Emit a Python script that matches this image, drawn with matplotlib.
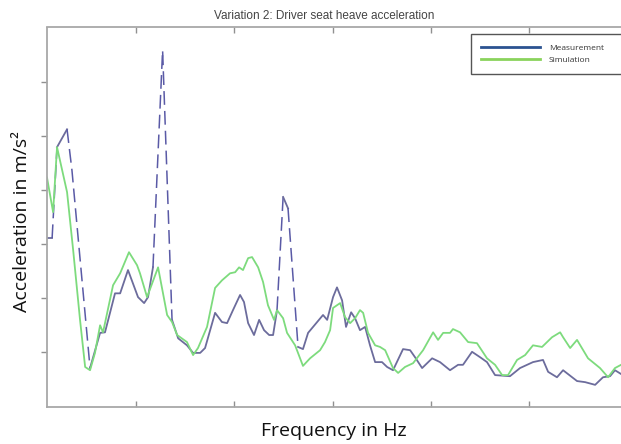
import numpy as np
import matplotlib
matplotlib.use("Agg")
import matplotlib.pyplot as plt
from matplotlib.lines import Line2D

# frequency axis (Hz) and heave acceleration (m/s^2)
meas_f = [0.47, 0.73, 0.98, 1.49, 1.74, 2.66, 3.17, 3.42, 3.93, 4.19, 4.59,
          5.10, 5.41, 5.61, 5.86, 6.35, 6.83, 7.14, 7.59, 7.90, 8.26, 8.51,
          9.02, 9.37, 9.63, 9.93, 10.29, 10.49, 10.70, 11.00, 11.26, 11.51,
          11.77, 11.97, 12.17, 12.48, 12.73, 13.24, 13.49, 13.75, 14.21,
          14.51, 14.72, 15.02, 15.22, 15.48, 15.68, 15.94, 16.14, 16.39,
          16.65, 16.90, 17.16, 17.51, 17.77, 18.07, 18.58, 18.94, 19.19,
          19.55, 20.06, 20.46, 20.97, 21.38, 21.63, 22.09, 22.50, 22.85,
          23.26, 24.02, 24.53, 25.19, 25.70, 25.96, 26.41, 26.72, 27.43,
          27.84, 28.35, 28.75, 29.11, 29.36, 29.67]
meas_a = [3.11, 3.11, 4.79, 5.12, 4.36, 0.71, 1.36, 1.37, 2.09, 2.09, 2.52,
          2.02, 1.91, 2.02, 2.57, 6.58, 1.60, 1.26, 1.13, 0.99, 0.99, 1.08,
          1.73, 1.56, 1.54, 1.78, 2.06, 1.93, 1.54, 1.32, 1.60, 1.41,
          1.32, 1.32, 1.78, 3.87, 3.66, 1.10, 1.06, 1.36, 1.56,
          1.69, 1.60, 2.02, 2.20, 1.96, 1.47, 1.74, 1.63, 1.41,
          1.47, 1.13, 0.82, 0.82, 0.73, 0.67, 1.06, 1.04, 0.91,
          0.71, 0.89, 0.82, 0.67, 0.77, 0.77, 1.01, 0.91, 0.82,
          0.58, 0.56, 0.71, 0.82, 0.86, 0.64, 0.54, 0.67, 0.47,
          0.45, 0.40, 0.54, 0.56, 0.67, 0.60]

sim_f = [0.47, 0.78, 0.98, 1.49, 1.80, 2.15, 2.41, 2.66, 2.91, 3.17, 3.32,
         3.83, 4.19, 4.64, 5.05, 5.20, 5.56, 6.12, 6.58, 6.83, 7.09, 7.59,
         7.90, 8.15, 8.61, 9.02, 9.37, 9.78, 10.04, 10.24, 10.44, 10.70,
         10.90, 11.21, 11.46, 11.71, 12.02, 12.17, 12.48, 12.68, 13.09,
         13.49, 13.85, 14.36, 14.61, 14.87, 15.02, 15.38, 15.63, 15.89,
         16.14, 16.39, 16.55, 16.80, 17.16, 17.41, 17.67, 18.07, 18.33,
         18.68, 19.09, 19.60, 20.11, 20.36, 20.62, 20.97, 21.12, 21.48,
         21.89, 22.34, 22.85, 23.26, 23.62, 23.92, 24.38, 24.79, 25.19,
         25.65, 26.16, 26.57, 26.72, 27.08, 27.43, 27.99, 28.60, 29.01,
         29.36, 29.67]
sim_a = [4.23, 3.59, 4.79, 3.96, 2.89, 1.60, 0.73, 0.67, 0.99, 1.50, 1.37,
         2.24, 2.46, 2.85, 2.61, 2.46, 2.02, 2.57, 1.69, 1.56, 1.32, 1.19,
         0.95, 1.08, 1.47, 2.19, 2.33, 2.46, 2.48, 2.57, 2.52, 2.74,
         2.76, 2.57, 2.30, 1.87, 1.60, 1.78, 1.63, 1.36, 1.13,
         0.75, 0.89, 1.04, 1.19, 1.41, 1.82, 1.91, 1.65, 1.54,
         1.63, 1.78, 1.73, 1.36, 1.13, 1.10, 1.04, 0.71, 0.62,
         0.73, 0.80, 1.04, 1.37, 1.23, 1.36, 1.36, 1.43, 1.37,
         1.19, 1.17, 0.89, 0.77, 0.58, 0.58, 0.86, 0.95, 1.13,
         1.10, 1.28, 1.37, 1.28, 1.08, 1.23, 0.89, 0.71, 0.54,
         0.71, 0.77]

meas_col = '#6c6c9c'
sim_col = '#7ddb7d'
spine_col = '#a8a8a8'


def split_runs(x, y, thr):
    # group consecutive segments by whether they are steep
    slope = np.abs(np.diff(y) / np.diff(x))
    steep = slope > thr
    runs = []
    start = 0
    for i in range(1, len(steep)):
        if steep[i] != steep[i - 1]:
            runs.append((start, i, steep[i - 1]))
            start = i
    runs.append((start, len(steep), steep[-1]))
    return runs


fig = plt.figure(figsize=(6.21, 4.44), dpi=100)
ax = fig.add_axes([47 / 621, 1 - 406.5 / 444, (660 - 47) / 621, 379 / 444])

mx = np.array(meas_f)
my = np.array(meas_a)
for s, e, steep in split_runs(mx, my, 2.8):
    if steep:
        ax.plot(mx[s:e + 1], my[s:e + 1], color='#5a5aa6', lw=1.1,
                ls=(0, (9, 4)))
    else:
        ax.plot(mx[s:e + 1], my[s:e + 1], color=meas_col, lw=1.3)
ax.plot(sim_f, sim_a, color=sim_col, lw=1.3)

ax.set_xlim(0.47, 31.65)
ax.set_ylim(0, 7)
ax.set_xticks([5, 10, 15, 20, 25, 30])
ax.set_yticks([1, 2, 3, 4, 5, 6])
ax.tick_params(axis='x', direction='in', top=True, length=4, width=1,
               color='#909090', labelbottom=False)
ax.tick_params(axis='y', direction='out', length=4, width=1,
               color='#909090', labelleft=False)
for sp in ax.spines.values():
    sp.set_color(spine_col)
    sp.set_linewidth(1.3)

handles = [Line2D([], [], color='#2b5391', lw=2),
           Line2D([], [], color='#8ad35c', lw=2)]
leg = fig.legend(handles, ['Measurement', 'Simulation'],
                 loc='upper left',
                 bbox_to_anchor=(467 / 621, 1 - 30 / 444, 170 / 621, 0),
                 mode='expand', fontsize=6, handlelength=7.0,
                 handletextpad=1.1, labelspacing=0.45, borderpad=1.2,
                 fancybox=False, framealpha=1, prop={'family': 'Open Sans',
                                                     'size': 6})
leg.get_frame().set_edgecolor('#555555')
leg.get_frame().set_linewidth(1)
for t in leg.get_texts():
    t.set_color('#333333')

fig.text(324 / 621, 1 - 16 / 444, 'Variation 2: Driver seat heave acceleration',
         ha='center', va='center', fontsize=8.5, color='#444444',
         family='Liberation Sans')
fig.text(334 / 621, 1 - 431 / 444, 'Frequency in Hz', ha='center',
         va='center', fontsize=14, family='Open Sans', color='#111111')
fig.text(22 / 621, 1 - 222 / 444, 'Acceleration in m/s²', ha='center',
         va='center', rotation=90, fontsize=14, family='Open Sans',
         color='#111111')

fig.savefig('out.png', dpi=100)
